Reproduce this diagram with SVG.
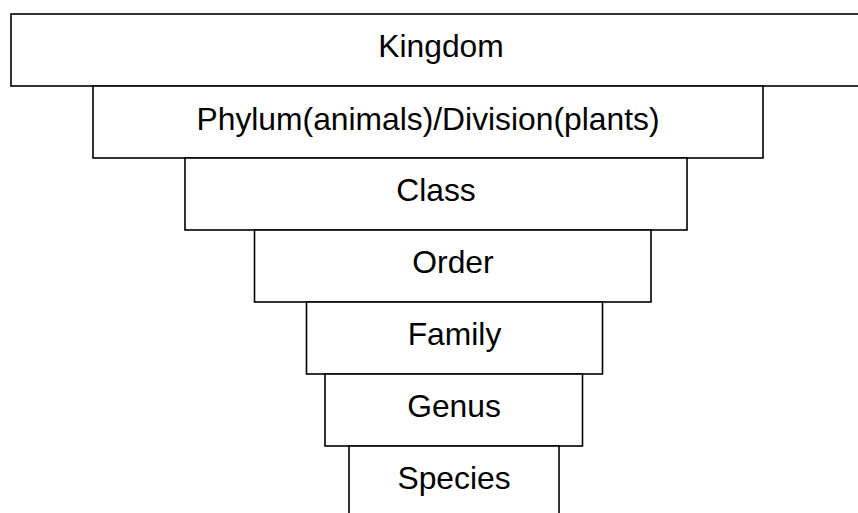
<svg xmlns="http://www.w3.org/2000/svg" width="858" height="513" viewBox="0 0 858 513">
<style>
.box{fill:#fff;stroke:#000;stroke-width:1.6}
.lbl{font-family:"Liberation Sans",Arial,sans-serif;font-size:31.8px;fill:#000;text-anchor:middle}
</style>
<rect width="858" height="513" fill="#fff"/>
<g id="kingdom"><rect class="box" x="11" y="14" width="870" height="72"/><text class="lbl" x="441" y="57">Kingdom</text></g>
<g id="phylum"><rect class="box" x="93" y="86" width="670" height="72"/><text class="lbl" x="428" y="130">Phylum(animals)/Division(plants)</text></g>
<g id="class"><rect class="box" x="185" y="158" width="502" height="72"/><text class="lbl" x="436" y="201">Class</text></g>
<g id="order"><rect class="box" x="254.5" y="230" width="396.5" height="72"/><text class="lbl" x="453" y="273">Order</text></g>
<g id="family"><rect class="box" x="306.5" y="302" width="296" height="72"/><text class="lbl" x="454.5" y="345">Family</text></g>
<g id="genus"><rect class="box" x="325" y="374" width="257.5" height="72"/><text class="lbl" x="454" y="417">Genus</text></g>
<g id="species"><rect class="box" x="349" y="446" width="210" height="90"/><text class="lbl" x="454" y="489">Species</text></g>
<g id="connectors"></g>
</svg>
